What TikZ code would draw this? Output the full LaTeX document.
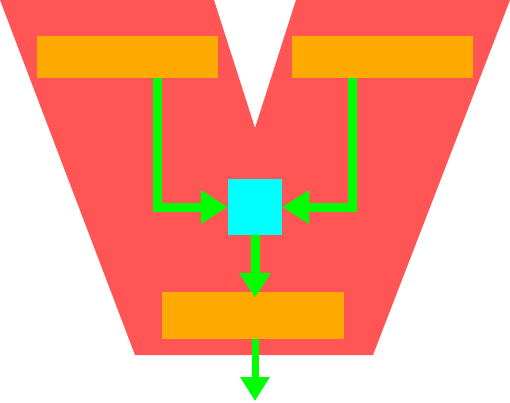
\documentclass[tikz,border=0pt]{standalone}
\usetikzlibrary{arrows.meta}
\definecolor{vred}{HTML}{FF5555}
\definecolor{vorange}{HTML}{FFAA00}
\definecolor{vcyan}{HTML}{00FFFF}
\definecolor{vgreen}{HTML}{00FF00}
\begin{document}
\begin{tikzpicture}[x=1pt,y=-1pt,
  box/.style={fill=vorange,draw=none,inner sep=0pt,minimum width=181pt,minimum height=42pt},
  hub/.style={fill=vcyan,draw=none,inner sep=0pt,minimum width=54pt,minimum height=56pt},
  flow/.style={draw=vgreen,line width=9pt,-{Triangle[length=27pt,width=32pt,fill=vgreen]}}
]
\useasboundingbox (0,0) rectangle (510,402);
\fill[vred] (0,0) -- (214,0) -- (255,128) -- (296,0) -- (510,0) -- (373,355) -- (135,355) -- cycle;
\node[box] (a) at (127.5,57) {};
\node[box] (b) at (382.5,57) {};
\node[box,minimum width=182pt,minimum height=47pt] (c) at (253,315.5) {};
\node[hub] (h) at (255,207) {};
\coordinate (out) at (255,401);
\draw[flow] (157.5,78) |- (h.west);
\draw[flow] (352.5,78) |- (h.east);
\draw[flow,-{Triangle[length=25pt,width=30pt,fill=vgreen]}] (h.south) -- ([yshift=-6pt]h.south |- c.north);
\draw[flow,line width=7pt,-{Triangle[length=24pt,width=28pt,fill=vgreen]}] (out |- c.south) -- (out);
\end{tikzpicture}
\end{document}
